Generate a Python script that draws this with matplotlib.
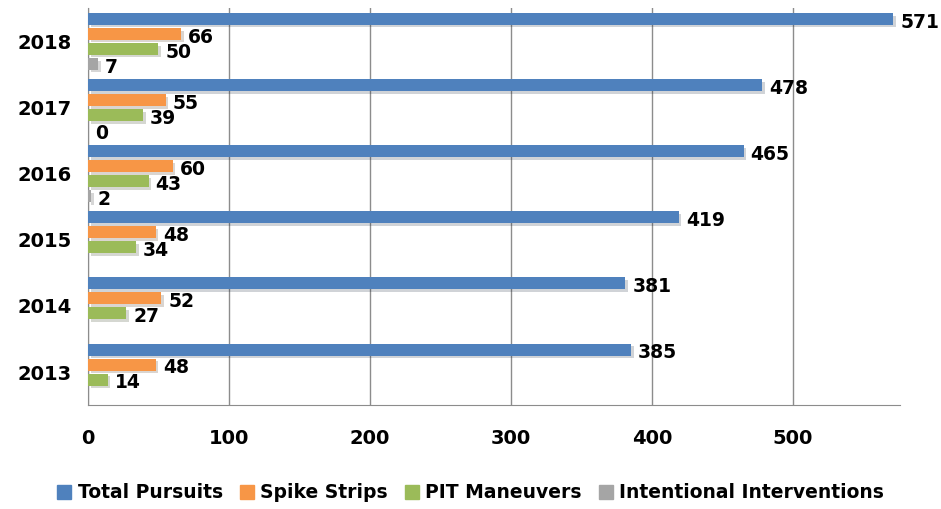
import numpy as np
import matplotlib.pyplot as plt
import matplotlib.patheffects as pe
from matplotlib.patches import Patch

# data
years = ["2013", "2014", "2015", "2016", "2017", "2018"]
total_pursuits = [385, 381, 419, 465, 478, 571]
spike_strips = [48, 52, 48, 60, 55, 66]
pit_maneuvers = [14, 27, 34, 43, 39, 50]
interventions = [np.nan, np.nan, np.nan, 2, 0, 7]

series = [
    ("Total Pursuits", total_pursuits, "#4F81BD"),
    ("Spike Strips", spike_strips, "#F79646"),
    ("PIT Maneuvers", pit_maneuvers, "#9BBB59"),
    ("Intentional Interventions", interventions, "#A5A5A5"),
]

plt.rcParams["font.family"] = ["DejaVu Sans"]
plt.rcParams["font.weight"] = "bold"

fig = plt.figure(figsize=(9.41, 5.09), dpi=100)
ax = fig.add_axes([0.0935, 0.204, 0.863, 0.780])

y = np.arange(len(years))
h = 0.18
step = 0.227
shadow = [pe.SimplePatchShadow(offset=(2, -2), alpha=0.2), pe.Normal()]

handles = []
for i, (name, vals, color) in enumerate(series):
    pos = y + (1.5 - i) * step
    vals = np.array(vals, dtype=float)
    ax.barh(pos, np.nan_to_num(vals), height=h, color=color,
            path_effects=shadow, zorder=3)
    handles.append(Patch(color=color, label=name))
    for p, v in zip(pos, vals):
        if np.isnan(v):
            continue
        ax.text(v + 5, p - 0.05, f"{int(v)}", va="center", ha="left",
                fontsize=13.5, fontweight="bold", zorder=4)

ax.set_xlim(0, 576)
ax.set_ylim(-0.5, len(years) - 0.5)
ax.set_xticks([0, 100, 200, 300, 400, 500])
ax.set_yticks(y)
ax.set_yticklabels(years)
ax.tick_params(axis="both", length=0, labelsize=14)
ax.tick_params(axis="x", pad=17)
ax.tick_params(axis="y", pad=12)
ax.grid(axis="x", color="#8C8C8C", linewidth=1, zorder=0)
for s in ["top", "right"]:
    ax.spines[s].set_visible(False)
for s in ["left", "bottom"]:
    ax.spines[s].set_color("#8C8C8C")

fig.legend(handles=handles, loc="lower center", bbox_to_anchor=(0.5, -0.02), ncol=4,
           frameon=False, handlelength=0.75, handleheight=0.75, handletextpad=0.35,
           columnspacing=0.9, prop={"weight": "bold", "size": 13.5})

fig.savefig("out.png", dpi=100)
